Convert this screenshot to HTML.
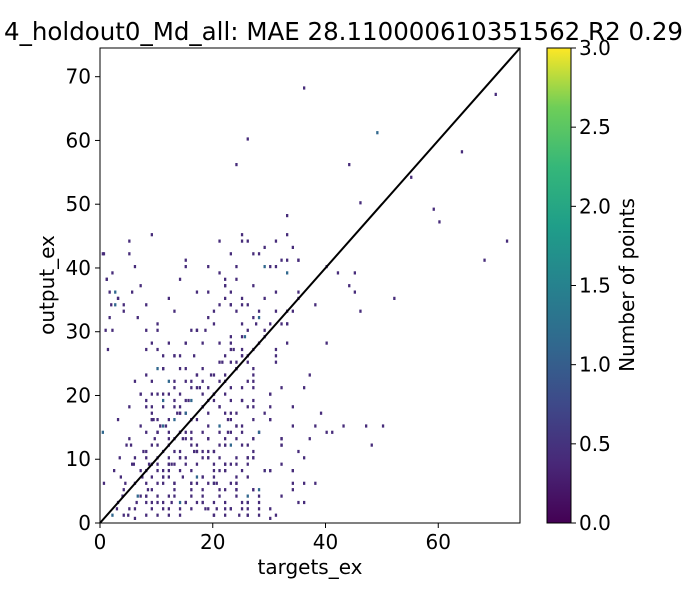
<!DOCTYPE html>
<html><head><meta charset="utf-8"><style>
body{margin:0;background:#fff;}
svg text{font-family:"DejaVu Sans","Liberation Sans",sans-serif;fill:#000;}
</style></head><body>
<svg id="chart" width="700" height="600" viewBox="0 0 700 600" xmlns="http://www.w3.org/2000/svg">
<defs>
<linearGradient id="viridis" x1="0" y1="1" x2="0" y2="0">
<stop offset="0" stop-color="#440154"/><stop offset="0.125" stop-color="#482878"/><stop offset="0.25" stop-color="#3e4989"/><stop offset="0.375" stop-color="#31688e"/><stop offset="0.5" stop-color="#26828e"/><stop offset="0.625" stop-color="#1f9e89"/><stop offset="0.75" stop-color="#35b779"/><stop offset="0.875" stop-color="#6ece58"/><stop offset="1" stop-color="#fde725"/>
</linearGradient>
<clipPath id="plotclip"><rect x="100" y="48" width="420" height="475"/></clipPath>
</defs>
<text x="683" y="40" font-size="24.5" text-anchor="end">4_holdout0_Md_all: MAE 28.110000610351562 R2 0.29</text>
<g id="cells" clip-path="url(#plotclip)"></g>
<line x1="100" y1="523" x2="520" y2="48" stroke="#000" stroke-width="2"/>
<rect x="100" y="48" width="420" height="475" fill="none" stroke="#000" stroke-width="1"/>
<g id="xticks"></g>
<g id="yticks"></g>
<text x="310" y="574" font-size="20" text-anchor="middle">targets_ex</text>
<text transform="translate(54,285) rotate(-90)" font-size="20" text-anchor="middle">output_ex</text>
<rect x="547" y="48" width="24" height="475" fill="url(#viridis)" stroke="#000" stroke-width="1"/>
<g id="cticks"></g>
<text transform="translate(634,285) rotate(-90)" font-size="20" text-anchor="middle">Number of points</text>
</svg>
<script>
const xTicks=[0,20,40,60];
const yTicks=[0,10,20,30,40,50,60,70];
const cTicks=[0,0.5,1.0,1.5,2.0,2.5,3.0];
const xPts=[2,3,4,5,6,7,8,9,10,11,12,13,14,15,16,17,18,19,20,21,22,23,24,25,26,27,28,3.5,5.5,7.5,9.5,11.5,13.5,15.5,17.5,19.5,21.5,23.5,25.5,27.5,4,6,8,10,12,14,16,18,20,22,24,26,28,30,5,7,9,11,13,15,17,19,21,23,25,27,29,31,33,6,8,10,12,14,16,18,20,22,24,26,28,30,32,34,36,9,11,13,15,17,19,21,23,25,27,29,8,10,12,14,16,18,20,22,24,10,12,14,16,18,20,22,24,26,28,30,32,11,13,15,17,19,21,23,25,27,12,14,16,18,20,22,24,26,28,30,32,34,10.5,12.5,14.5,16.5,18.5,20.5,22.5,13,17,19,21,23,25,27,29,31,33,35,37,18,20,22,24,26,28,30,32,34,36,38,20,22,24,26,28,30,32,34,36,38,40,21,23,25,27,29,31,33,0.5,1,1.5,2,2.5,3,4,5,6,7,8,9,10,11,1,2,3,4,5,6,7,0.5,1.5,2.5,8,10,12,14,15,5.5,6.5,40,42,44,46,48,50,52,41,43,45,47,49,44,46,55,60,64,68,72,59,70,36,35,34,33,32,38,33,31,30,28,45,35,37,39,36,40,30,26,24,22,12,14,16,10,9,8,7,6,11,13,15,3,5,7,9,11,13,15,17,19,21,23,25,27,29,31,4.5,6.5,8.5,10.5,12.5,14.5,16.5,18.5,20.5,22.5,24.5];
const yPts=[1,3,5,2,6,4,8,3,10,7,12,5,14,9,16,11,18,13,20,15,22,17,24,19,26,21,28,7,9,11,13,15,17,19,21,23,25,27,29,31,1,2,4,3,1,2,5,3,1,2,4,1,3,2,13,15,17,19,21,17,23,19,25,21,27,23,29,25,31,0.5,3,6,8,10,2,4,6,8,10,12,14,16,12,8,6,18,20,22,14,12,10,18,16,14,10,8,11,16,20,24,14,28,33,37,40,9,14,18,22,5,8,12,6,10,14,18,4,7,19,3,6,10,4,2,15,13,9,17,6,11,7,9,5,3,1,0.5,21,18,15,9,13,26,30,2,16,6,30,36,28,34,26,32,40,44,48,11,13,7,9,3,5,1,4,8,13,6,3,15,11,9,7,4,2,16,12,8,10,6,28,39,34,44,42,30,27,41,42,38,36,39,34,35,33,44,40,37,30,45,27,26,38,30,35,34,42,10,8,6,32,36,34,30,35,38,40,36,32,40,39,37,33,12,15,35,14,15,39,15,61,56,50,54,47,58,41,44,49,67,68,36,33,31,31,34,33,33,31,32,36,35,23,17,21,14,20,22,24,26,28,10,12,14,16,18,20,22,24,26,28,16,18,20,22,24,26,28,30,32,34,36];
const blockAx=[8,9,10,11,12,13,14,15,16,17,18,19,20,21,22,23,24,25,26,27];
const blockAy=[
[2,5,8,1,12,4,9,15,3,7,11,2,6,14,1,10,5,8,3,13],
[18,11,22,16,7,20,13,19,10,23,6,17,21,9,16,4,12,1,18,7],
[6,14,3,19,9,24,17,6,22,12,27,15,3,25,11,19,2,14,24,9],
[13,20,17,8,21,3,11,1,14,5,19,9,29,7,22,14,28,20,11,4],
[9,3,13,6,16,10,2,23,18,1,14,33,12,18,5,27,9,31,6,16],
[16,8,24,13,3,14,21,11,5,17,2,24,8,30,19,6,16,12,2,22],
[4,17,10,21,11,7,15,20,8,13,25,6,35,3,13,23,7,4,15,10],
[11,1,19,4,23,18,6,3,12,20,9,13,26,10,27,1,20,24,8,2]];
const blockBx=[22,23,24,25,26,27,28,29,30,31,32,33,34,35];
const blockBy=[
[33,26,41,30,36,22,40,31,44,38,29,56,34,60],
[18,37,12,25,19,34,10,42,17,8,26,13,45,5],
[3,8,28,15,45,2,24,5,35,20,40,9,28,15]];
const blockCx=[0.3,0.8,1.2,1.8,2.3,2.8,3.3,3.8,4.3,4.8,5.3,5.8,6.3,7.3,8.3,9.3];
const blockCy=[
[41,35,42,38,31,44,37,33,43,40,36,41,39,43,41,42],
[30,27,34,8,2,10,4,6,1,12,9,3,7,5,16,14]];
const allX=xPts.slice(), allY=yPts.slice();
blockAy.forEach(row=>row.forEach((y,i)=>{allX.push(blockAx[i]);allY.push(y);}));
blockBy.forEach(row=>row.forEach((y,i)=>{allX.push(blockBx[i]);allY.push(y);}));
blockCy.forEach(row=>row.forEach((y,i)=>{allX.push(blockCx[i]);allY.push(y);}));
const ns="http://www.w3.org/2000/svg";
const sx=v=>100+v*420/74.5, sy=v=>523-v*475/74.5;
const cells=document.getElementById('cells');
for(let i=0;i<allX.length;i++){
  const r=document.createElementNS(ns,'rect');
  r.setAttribute('x',sx(allX[i]).toFixed(1));
  r.setAttribute('y',(sy(allY[i])-3).toFixed(1));
  r.setAttribute('width',2.3);r.setAttribute('height',3.2);
  r.setAttribute('fill',i%19===0?'#31688e':'#472c7a');
  
  
  cells.appendChild(r);
}
function txt(g,x,y,s,anchor,size){const t=document.createElementNS(ns,'text');t.setAttribute('x',x);t.setAttribute('y',y);t.setAttribute('font-size',size);t.setAttribute('text-anchor',anchor);t.textContent=s;g.appendChild(t);return t;}
function ln(g,x1,y1,x2,y2){const l=document.createElementNS(ns,'line');l.setAttribute('x1',x1);l.setAttribute('y1',y1);l.setAttribute('x2',x2);l.setAttribute('y2',y2);l.setAttribute('stroke','#000');g.appendChild(l);}
const xg=document.getElementById('xticks');
xTicks.forEach(v=>{ln(xg,sx(v),523,sx(v),528);const t=txt(xg,sx(v),549,String(v),'middle',20);

});
const yg=document.getElementById('yticks');
yTicks.forEach(v=>{ln(yg,95,sy(v),100,sy(v));const t=txt(yg,91,sy(v)+7,String(v),'end',20);

});
const cg=document.getElementById('cticks');
cTicks.forEach(v=>{const y=523-v*475/3;ln(cg,571,y,576,y);const t=txt(cg,579,y+7,v.toFixed(1),'start',20);

});
</script>
</body></html>
